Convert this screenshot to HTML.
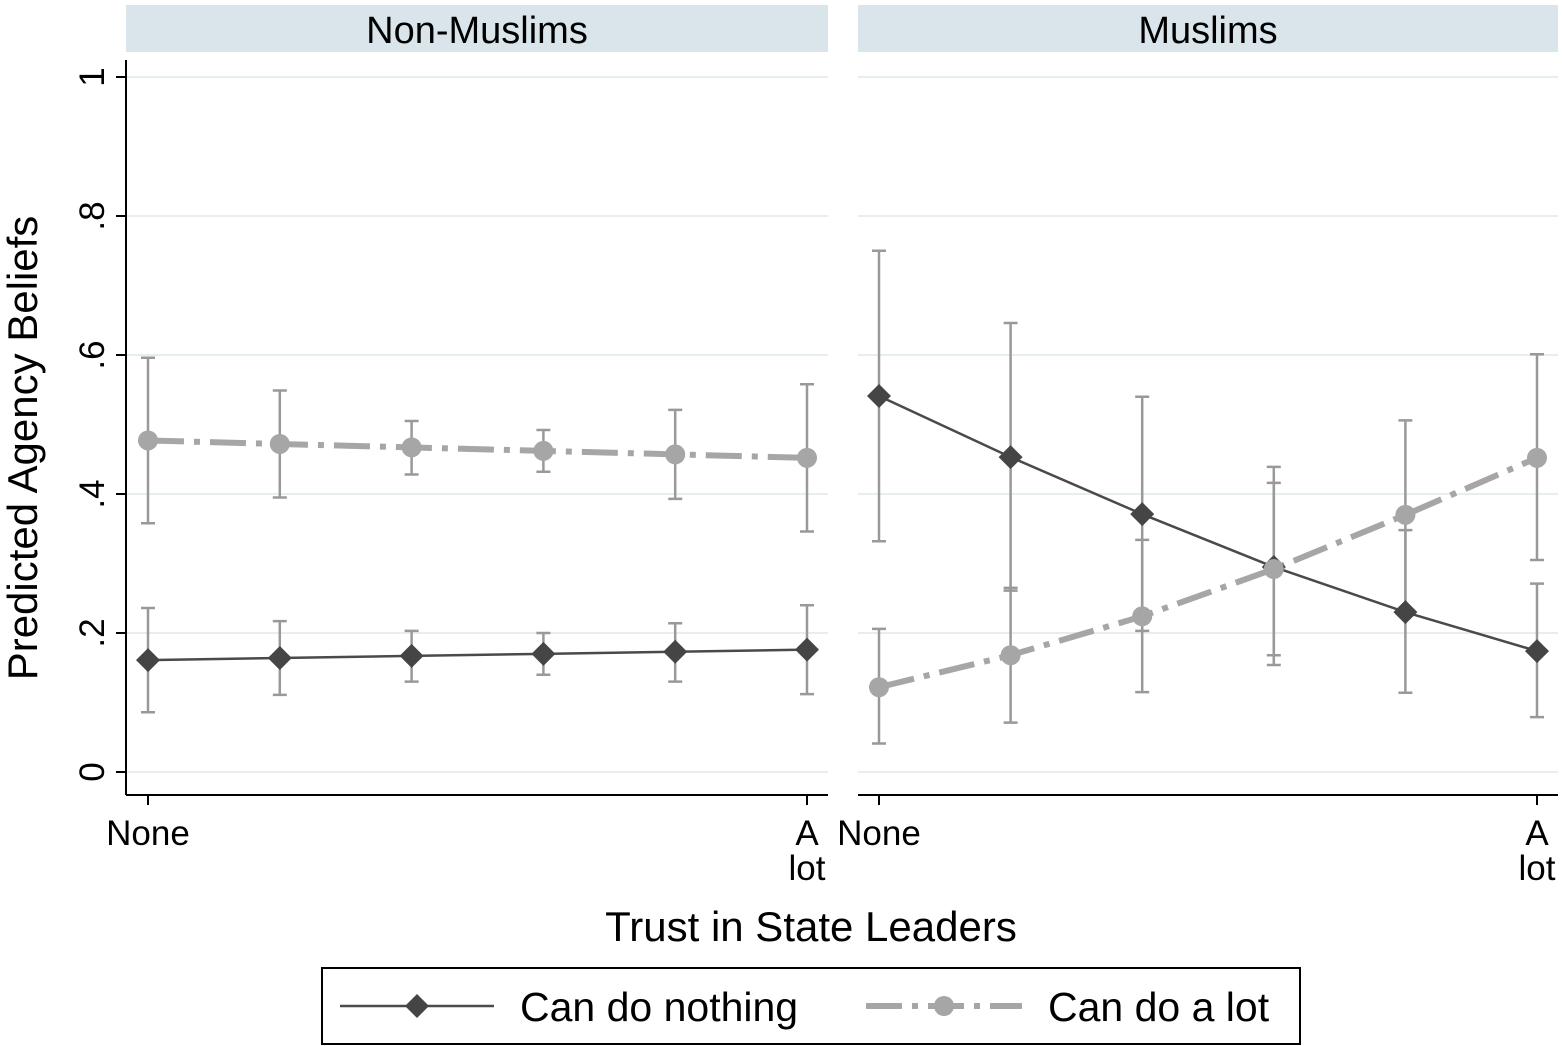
<!DOCTYPE html>
<html><head><meta charset="utf-8"><style>
html,body{margin:0;padding:0;background:#fff;}
svg{display:block;font-family:"Liberation Sans",Arial,sans-serif;}
</style></head><body>
<svg id="chart" width="1562" height="1046" viewBox="0 0 1562 1046" xmlns="http://www.w3.org/2000/svg">
</svg>
<script>
const categories = ["None","2","3","4","5","A lot"];
const panels = ["Non-Muslims","Muslims"];
const yTicks = [0,0.2,0.4,0.6,0.8,1];
const yTickLabels = ["0",".2",".4",".6",".8","1"];
const nmNothing = [0.161,0.164,0.167,0.170,0.173,0.176];
const nmNothingLo = [0.086,0.111,0.130,0.140,0.130,0.112];
const nmNothingHi = [0.236,0.217,0.203,0.200,0.214,0.240];
const nmLot = [0.477,0.472,0.467,0.462,0.457,0.452];
const nmLotLo = [0.358,0.395,0.428,0.432,0.393,0.346];
const nmLotHi = [0.596,0.549,0.505,0.492,0.521,0.558];
const mNothing = [0.541,0.453,0.371,0.295,0.230,0.174];
const mNothingLo = [0.332,0.261,0.203,0.154,0.114,0.079];
const mNothingHi = [0.750,0.646,0.540,0.439,0.348,0.271];
const mLot = [0.122,0.168,0.224,0.292,0.370,0.452];
const mLotLo = [0.041,0.071,0.115,0.168,0.233,0.305];
const mLotHi = [0.206,0.265,0.334,0.416,0.506,0.601];

const svg = document.getElementById('chart');
const NS = 'http://www.w3.org/2000/svg';
function mk(tag, attrs, parent){const e=document.createElementNS(NS,tag);for(const k in attrs)e.setAttribute(k,attrs[k]);(parent||svg).appendChild(e);return e;}
function y(v){return 772 - v*695;}
const panelX = [{l:126,r:828,x0:148,x1:807},{l:858,r:1558,x0:879,x1:1537}];
function xf(p,i){const P=panelX[p];return P.x0 + i*(P.x1-P.x0)/(categories.length-1);}
const DASH = '36 10 6 10';

panels.forEach((name,p)=>{
  const P = panelX[p];
  const g = mk('g',{});
  
  
  const strip = mk('rect',{x:P.l,y:5,width:P.r-P.l,height:47,fill:'#d9e5ea'},g);
  
  
  const st = mk('text',{x:(P.l+P.r)/2,y:43,'font-size':38,'text-anchor':'middle',fill:'#000'},g);
  st.textContent = name;
  
  
  yTicks.forEach(v=>{
    const gl = mk('line',{x1:P.l,x2:P.r,y1:y(v),y2:y(v),stroke:'#e6eeee','stroke-width':2},g);
    
    
  });
  const xa = mk('line',{x1:P.l,x2:P.r,y1:795,y2:795,stroke:'#000','stroke-width':2},g);
  
  
  [0,categories.length-1].forEach(i=>{
    mk('line',{x1:xf(p,i),x2:xf(p,i),y1:795,y2:805,stroke:'#000','stroke-width':2},g);
  });
  const t1 = mk('text',{x:xf(p,0),y:845,'font-size':35,'text-anchor':'middle'},g);
  t1.textContent = categories[0];
  
  
  const t2 = mk('text',{x:xf(p,5),y:845,'font-size':35,'text-anchor':'middle'},g);
  t2.textContent = 'A';
  
  
  const t3 = mk('text',{x:xf(p,5),y:880,'font-size':35,'text-anchor':'middle'},g);
  t3.textContent = 'lot';
  
  

  const nothing = p===0?nmNothing:mNothing, nLo=p===0?nmNothingLo:mNothingLo, nHi=p===0?nmNothingHi:mNothingHi;
  const lot = p===0?nmLot:mLot, lLo=p===0?nmLotLo:mLotLo, lHi=p===0?nmLotHi:mLotHi;
  function bars(lo,hi,nm){
    lo.forEach((v,i)=>{
      const x=xf(p,i);
      const b = mk('path',{d:`M${x-7},${y(hi[i])}H${x+7}M${x},${y(hi[i])}V${y(v)}M${x-7},${y(v)}H${x+7}`,stroke:'#999','stroke-width':2.5,fill:'none'},g);
      
      
    });
  }
  bars(nLo,nHi,'error-bar-nothing');
  bars(lLo,lHi,'error-bar-lot');
  const pn = mk('polyline',{points:nothing.map((v,i)=>xf(p,i)+','+y(v)).join(' '),fill:'none',stroke:'#4a4a4a','stroke-width':2.5},g);
  
  
  const pl = mk('polyline',{points:lot.map((v,i)=>xf(p,i)+','+y(v)).join(' '),fill:'none',stroke:'#a6a6a6','stroke-width':6,'stroke-dasharray':DASH},g);
  
  
  nothing.forEach((v,i)=>{
    const x=xf(p,i),yy=y(v);
    const d = mk('path',{d:`M${x},${yy-12}L${x+12},${yy}L${x},${yy+12}L${x-12},${yy}Z`,fill:'#454545'},g);
    
    
  });
  lot.forEach((v,i)=>{
    const c = mk('circle',{cx:xf(p,i),cy:y(v),r:10,fill:'#a6a6a6'},g);
    
    
  });
});
const ya = mk('line',{x1:126,x2:126,y1:60,y2:795,stroke:'#000','stroke-width':2});


yTicks.forEach((v,i)=>{
  mk('line',{x1:116,x2:126,y1:y(v),y2:y(v),stroke:'#000','stroke-width':2});
  const t = mk('text',{x:0,y:0,'font-size':35,'text-anchor':'middle',transform:`translate(104,${y(v)}) rotate(-90)`});
  t.textContent = yTickLabels[i];
  
  
});
const yt = mk('text',{x:0,y:0,'font-size':42,'text-anchor':'middle',transform:'translate(37,448) rotate(-90)'});
yt.textContent = 'Predicted Agency Beliefs';


const xt = mk('text',{x:811,y:941,'font-size':42,'text-anchor':'middle'});
xt.textContent = 'Trust in State Leaders';


const lg = mk('g',{});


mk('rect',{x:322,y:968,width:978,height:76,fill:'#fff',stroke:'#000','stroke-width':2},lg);
mk('line',{x1:340,x2:494,y1:1006,y2:1006,stroke:'#4a4a4a','stroke-width':2.5},lg);
mk('path',{d:'M417,994L429,1006L417,1018L405,1006Z',fill:'#454545'},lg);
const l1 = mk('text',{x:520,y:1021,'font-size':41},lg);
l1.textContent = 'Can do nothing';


mk('line',{x1:866,x2:1022,y1:1006,y2:1006,stroke:'#a6a6a6','stroke-width':6,'stroke-dasharray':DASH},lg);
mk('circle',{cx:944,cy:1006,r:10,fill:'#a6a6a6'},lg);
const l2 = mk('text',{x:1048,y:1021,'font-size':41},lg);
l2.textContent = 'Can do a lot';


</script>
</body></html>
